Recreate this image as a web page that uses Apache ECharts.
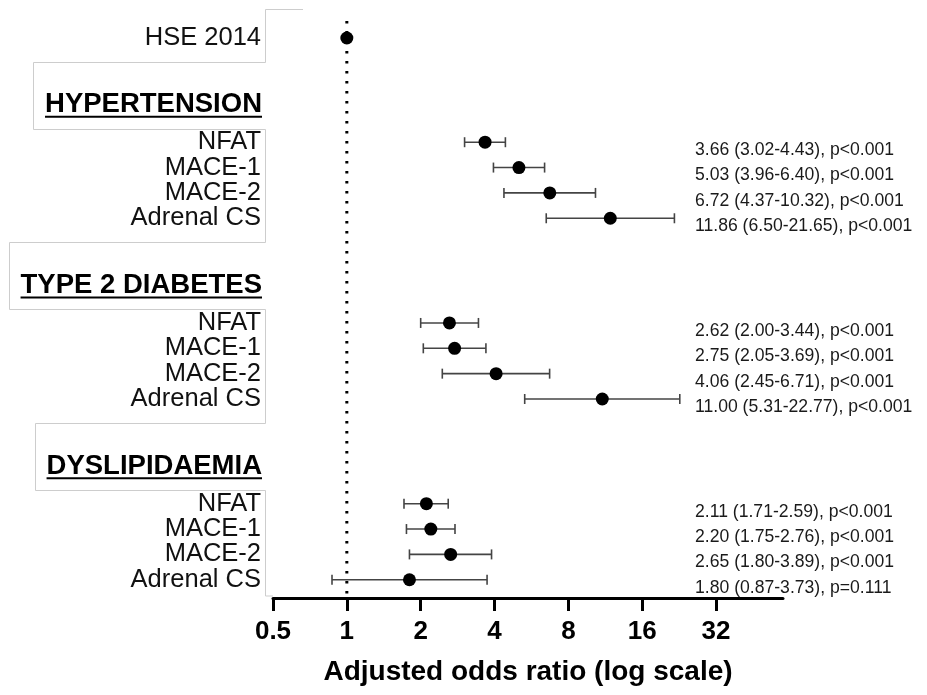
<!DOCTYPE html>
<html><head><meta charset="utf-8">
<script src="https://cdn.jsdelivr.net/npm/echarts@6/dist/echarts.min.js"></script>
<style>html,body{margin:0;padding:0;background:#fff}#c{width:927px;height:695px}</style>
</head><body><div id="c"></div>
<script>
// ---------- data ----------
const refLabel = 'HSE 2014';
const refOR = 1;
const groupNames = ['HYPERTENSION', 'TYPE 2 DIABETES', 'DYSLIPIDAEMIA'];
const subgroups = ['NFAT', 'MACE-1', 'MACE-2', 'Adrenal CS'];
const htnOR = [3.66, 5.03, 6.72, 11.86];
const htnLow = [3.02, 3.96, 4.37, 6.50];
const htnHigh = [4.43, 6.40, 10.32, 21.65];
const htnP = ['p<0.001', 'p<0.001', 'p<0.001', 'p<0.001'];
const t2dOR = [2.62, 2.75, 4.06, 11.00];
const t2dLow = [2.00, 2.05, 2.45, 5.31];
const t2dHigh = [3.44, 3.69, 6.71, 22.77];
const t2dP = ['p<0.001', 'p<0.001', 'p<0.001', 'p<0.001'];
const dysOR = [2.11, 2.20, 2.65, 1.80];
const dysLow = [1.71, 1.75, 1.80, 0.87];
const dysHigh = [2.59, 2.76, 3.89, 3.73];
const dysP = ['p<0.001', 'p<0.001', 'p<0.001', 'p=0.111'];
const tickValues = [0.5, 1, 2, 4, 8, 16, 32];
const axisTitle = 'Adjusted odds ratio (log scale)';

// ---------- layout (row units) ----------
const ROW0 = 4.11, GROUP_STEP = 7.13, HEADER_OFF = -1.52;
const Y_MIN = -1.5, Y_MAX = 22.09, REF_TOP = -0.67;
const FONT = '"Liberation Sans", Arial, sans-serif';

const groups = [
  { name: groupNames[0], or: htnOR, lo: htnLow, hi: htnHigh, p: htnP },
  { name: groupNames[1], or: t2dOR, lo: t2dLow, hi: t2dHigh, p: t2dP },
  { name: groupNames[2], or: dysOR, lo: dysLow, hi: dysHigh, p: dysP }
];

const rows = [];
const headers = [];
groups.forEach((g, gi) => {
  const base = ROW0 + gi * GROUP_STEP;
  headers.push({ pos: base + HEADER_OFF, name: g.name });
  subgroups.forEach((s, i) => {
    rows.push({
      pos: base + i, label: s, or: g.or[i], lo: g.lo[i], hi: g.hi[i],
      text: g.or[i].toFixed(2) + ' (' + g.lo[i].toFixed(2) + '-' + g.hi[i].toFixed(2) + '), ' + g.p[i]
    });
  });
});

const chart = echarts.init(document.getElementById('c'), null, { renderer: 'canvas' });

const option = {
  animation: false,
  backgroundColor: '#fff',
  grid: { left: 273, right: 144, top: 0, bottom: 97, containLabel: false },
  xAxis: {
    type: 'log', logBase: 2, min: 0.5, max: 60,
    axisLine: { show: true, onZero: false, lineStyle: { color: '#000', width: 3 } },
    axisTick: { show: true, customValues: tickValues, length: 13, lineStyle: { color: '#000', width: 3 } },
    axisLabel: {
      show: true, customValues: tickValues, color: '#000', fontSize: 26, fontWeight: 'bold',
      fontFamily: FONT, margin: 21, formatter: v => String(v)
    },
    splitLine: { show: false },
    name: axisTitle, nameLocation: 'middle', nameGap: 60,
    nameTextStyle: { color: '#000', fontSize: 28, fontWeight: 'bold', fontFamily: FONT }
  },
  yAxis: { type: 'value', inverse: true, min: Y_MIN, max: Y_MAX, show: false },
  series: [
    {
      type: 'line', silent: true, symbol: 'none', z: 1,
      data: [[refOR, REF_TOP], [refOR, Y_MAX]],
      lineStyle: { color: '#000', width: 3, type: [2.5, 7.5] }
    },
    {
      type: 'custom', silent: true, z: 2,
      data: rows.map(r => [r.pos, r.lo, r.hi]),
      renderItem: function (params, api) {
        const y = api.value(0);
        const a = api.coord([api.value(1), y]);
        const b = api.coord([api.value(2), y]);
        const cap = 5;
        const st = { stroke: '#444', lineWidth: 1.6 };
        return {
          type: 'group',
          children: [
            { type: 'line', shape: { x1: a[0], y1: a[1], x2: b[0], y2: b[1] }, style: st },
            { type: 'line', shape: { x1: a[0], y1: a[1] - cap, x2: a[0], y2: a[1] + cap }, style: st },
            { type: 'line', shape: { x1: b[0], y1: b[1] - cap, x2: b[0], y2: b[1] + cap }, style: st }
          ]
        };
      }
    },
    {
      type: 'scatter', silent: true, z: 3, symbol: 'circle', symbolSize: 13,
      itemStyle: { color: '#000', opacity: 1 },
      data: [[refOR, 0]].concat(rows.map(r => [r.or, r.pos]))
    }
  ]
};
chart.setOption(option);

// ---------- text & decorations positioned through the chart's scales ----------
const ctx = document.createElement('canvas').getContext('2d');
function measure(text, font) { ctx.font = font; return ctx.measureText(text).width; }
function py(pos) { return chart.convertToPixel({ gridIndex: 0 }, [1, pos])[1]; }

const LABEL_X = 261, ANN_X = 695, BOX_X = 265.5;
const labelFont = '25.5px ' + FONT;
const headFont = 'bold 27.5px ' + FONT;
const annFont = '17.6px ' + FONT;
const boxColor = '#cdcdcd';
const elements = [];

elements.push({ type: 'text', silent: true, style: { text: refLabel, x: LABEL_X, y: py(0), align: 'right', verticalAlign: 'middle', font: labelFont, fill: '#111' } });

rows.forEach(r => {
  const y = py(r.pos);
  elements.push({ type: 'text', silent: true, style: { text: r.label, x: LABEL_X, y: y, align: 'right', verticalAlign: 'middle', font: labelFont, fill: '#111' } });
  elements.push({ type: 'text', silent: true, style: { text: r.text, x: ANN_X, y: y + 8, align: 'left', verticalAlign: 'middle', font: annFont, fill: '#1a1a1a' } });
});

const boxes = [];
headers.forEach(h => {
  const y = py(h.pos);
  const w = measure(h.name, headFont);
  elements.push({ type: 'text', silent: true, style: { text: h.name, x: LABEL_X + 1, y: y + 1, align: 'right', verticalAlign: 'middle', font: headFont, fill: '#000' } });
  elements.push({ type: 'rect', silent: true, shape: { x: LABEL_X + 1 - w, y: y + 12, width: w, height: 2 }, style: { fill: '#000' } });
  const top = Math.round(y - 42) + 0.5, bot = Math.round(y + 25) + 0.5, left = Math.round(LABEL_X - w - 11) + 0.5;
  boxes.push({ top, bot });
  elements.push({ type: 'polyline', silent: true, shape: { points: [[BOX_X, top], [left, top], [left, bot], [BOX_X, bot]] }, style: { stroke: boxColor, lineWidth: 1, fill: null } });
});

const axisY = chart.convertToPixel({ gridIndex: 0 }, [1, Y_MAX])[1] - 2;
const x05 = chart.convertToPixel({ gridIndex: 0 }, [0.5, 0])[0];
const topY = 9.5;
const segs = [[topY, boxes[0].top], [boxes[0].bot, boxes[1].top], [boxes[1].bot, boxes[2].top], [boxes[2].bot, axisY]];
segs.forEach(s => elements.push({ type: 'line', silent: true, shape: { x1: BOX_X, y1: s[0], x2: BOX_X, y2: s[1] }, style: { stroke: boxColor, lineWidth: 1 } }));
elements.push({ type: 'line', silent: true, shape: { x1: BOX_X, y1: topY, x2: 303, y2: topY }, style: { stroke: boxColor, lineWidth: 1 } });
elements.push({ type: 'line', silent: true, shape: { x1: BOX_X, y1: axisY, x2: x05, y2: axisY }, style: { stroke: boxColor, lineWidth: 1 } });

chart.setOption({ graphic: { elements: elements } });
</script>
</body></html>
